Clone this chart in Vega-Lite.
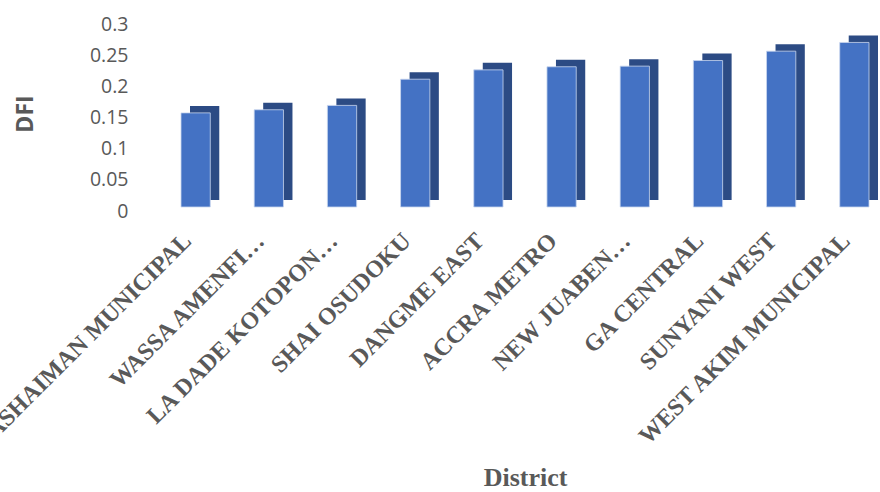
{
  "$schema": "https://vega.github.io/schema/vega-lite/v6.json",
  "autosize": {"type": "none"},
  "width": 688,
  "height": 187,
  "padding": {"left": 181, "top": 20, "right": 11, "bottom": 285},
  "background": "white",
  "config": {"view": {"stroke": null}},
  "data": {
    "values": [
      {"district": "ASHAIMAN MUNICIPAL", "dfi": 0.151},
      {"district": "WASSA AMENFI…", "dfi": 0.156},
      {"district": "LA DADE KOTOPON…", "dfi": 0.163},
      {"district": "SHAI OSUDOKU", "dfi": 0.205},
      {"district": "DANGME EAST", "dfi": 0.22},
      {"district": "ACCRA METRO", "dfi": 0.225},
      {"district": "NEW JUABEN…", "dfi": 0.226},
      {"district": "GA CENTRAL", "dfi": 0.235},
      {"district": "SUNYANI WEST", "dfi": 0.25},
      {"district": "WEST AKIM MUNICIPAL", "dfi": 0.264}
    ]
  },
  "encoding": {
    "x": {
      "field": "district",
      "type": "nominal",
      "sort": null,
      "scale": {"paddingInner": 0.6, "paddingOuter": 0},
      "axis": {
        "title": "District",
        "titleFont": "Liberation Serif",
        "titleFontWeight": "bold",
        "titleFontSize": 26,
        "titleColor": "#595959",
        "titlePadding": 57,
        "labelAngle": -45,
        "labelAlign": "right",
        "labelBaseline": "middle",
        "labelFont": "Liberation Serif",
        "labelFontWeight": "bold",
        "labelFontSize": 24,
        "labelColor": "#595959",
        "labelPadding": 30,
        "labelOffset": -8,
        "labelLimit": 0,
        "labelOverlap": false,
        "domain": false,
        "ticks": false,
        "tickSize": 0,
        "grid": false
      }
    },
    "y": {
      "field": "dfi",
      "type": "quantitative",
      "scale": {"domain": [0, 0.3], "nice": false, "zero": true},
      "axis": {
        "title": "DFI",
        "titleFont": "Open Sans",
        "titleFontWeight": "bold",
        "titleFontSize": 23,
        "titleColor": "#595959",
        "titlePadding": 52,
        "values": [0, 0.05, 0.1, 0.15, 0.2, 0.25, 0.3],
        "format": "~g",
        "labelFont": "Open Sans",
        "labelFontSize": 19.5,
        "labelColor": "#595959",
        "labelPadding": 53,
        "labelOffset": 4,
        "domain": false,
        "ticks": false,
        "tickSize": 0,
        "grid": false
      }
    }
  },
  "layer": [
    {
      "mark": {"type": "bar", "color": "#2c4b84", "xOffset": 9, "x2Offset": 9, "yOffset": -7, "y2Offset": -7}
    },
    {
      "mark": {"type": "bar", "color": "#4472c4", "stroke": "#c9d7ef", "strokeWidth": 0.8}
    }
  ]
}
